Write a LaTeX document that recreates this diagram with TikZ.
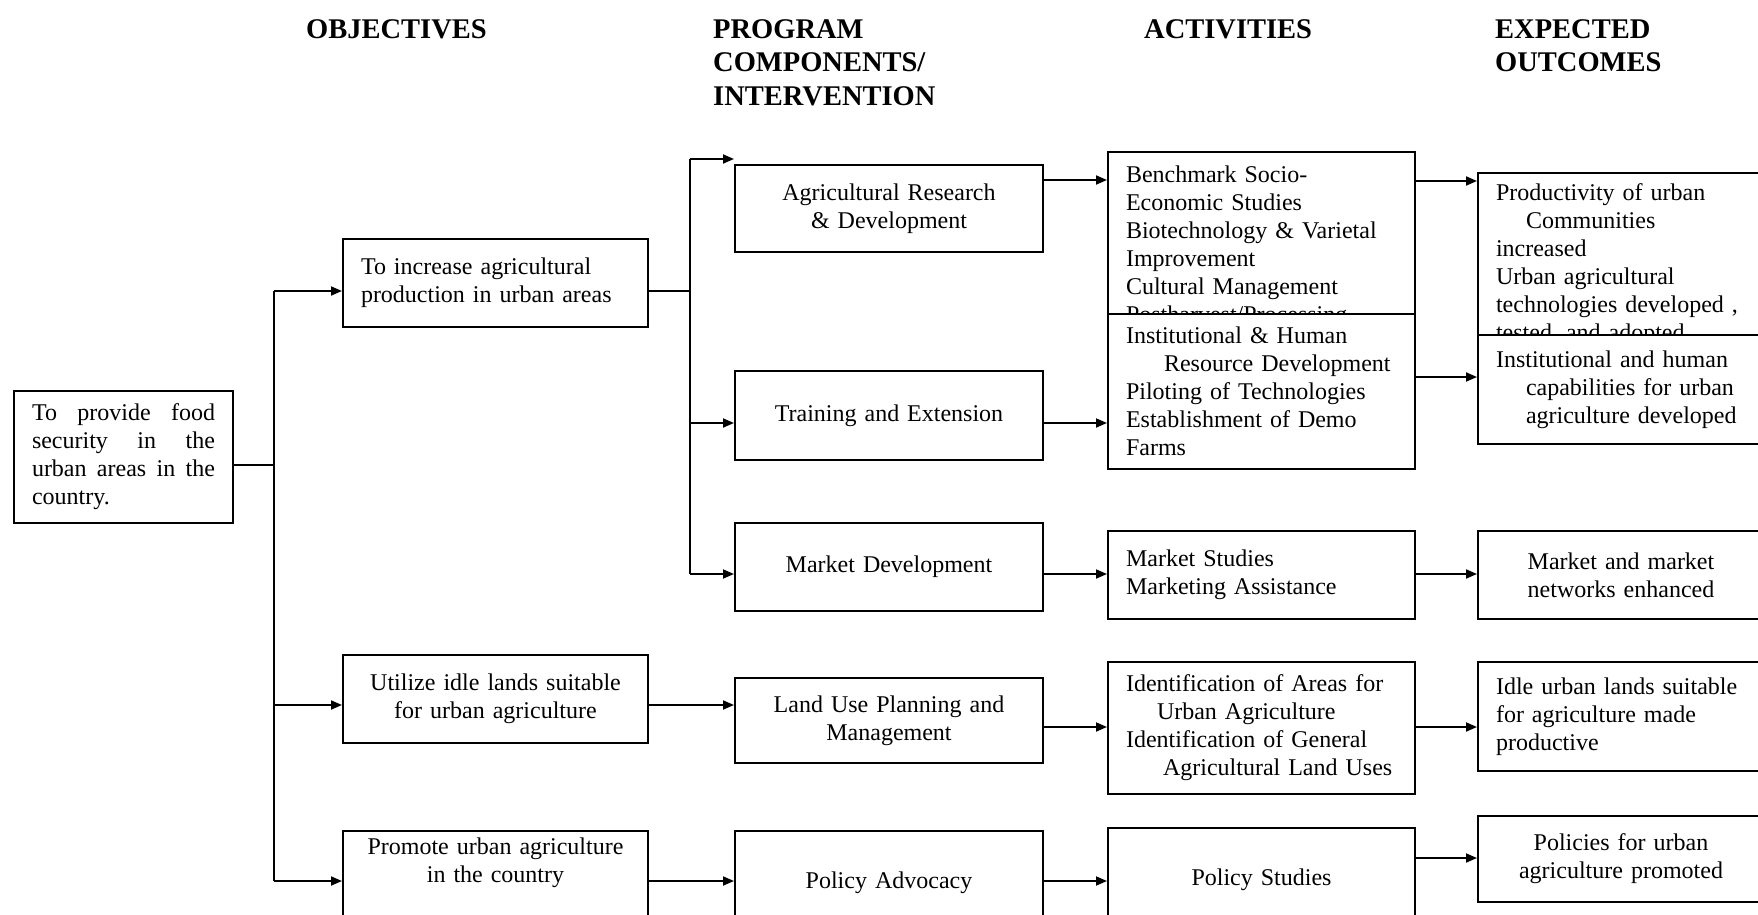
\documentclass[tikz,border=0pt]{standalone}
\usepackage{fontspec}
\setmainfont{Liberation Serif}
\usetikzlibrary{arrows.meta}

\begin{document}
\begin{tikzpicture}[x=1pt, y=-1pt, font=\fontsize{24}{28}\selectfont]

\tikzstyle{box}=[draw, line width=2pt, fill=white, anchor=north west, inner xsep=18pt, inner ysep=6pt]
\tikzstyle{head}=[anchor=north west, inner sep=0pt, align=left, font=\fontsize{28.5}{33.5}\selectfont\bfseries]
\tikzstyle{con}=[line width=1.8pt]
\tikzstyle{arr}=[line width=1.8pt, -{Triangle[length=11pt,width=9pt]}]
%\tikzstyle{grey}=[draw=black!60]

\useasboundingbox (0,0) rectangle (1758,915);
\clip (0,0) rectangle (1758,915);

% column heads
\node[head] (hobj) at (306,19) {OBJECTIVES};
\node[head] (hprog) at (713,19) {PROGRAM\\COMPONENTS/\\INTERVENTION};
\node[head] (hact) at (1144,19) {ACTIVITIES};
\node[head] (hout) at (1495,19) {EXPECTED\\OUTCOMES};

% goal and objectives
\node[box, text width=183pt, minimum height=132pt, align=justify] (root) at (13,390)
  {\tolerance=10000\hyphenpenalty=10000\exhyphenpenalty=10000 To provide food\linebreak security in the\linebreak urban areas in the country.\par};
\node[box, text width=269pt, minimum height=88pt, align=left] (obj1) at (342,238)
  {To increase agricultural\\production in urban areas};
\node[box, text width=269pt, minimum height=88pt, align=center] (obj2) at (342,654)
  {Utilize idle lands suitable\\for urban agriculture};
\node[box, text width=269pt, minimum height=100pt, align=center] (obj3) at (342,830)
  {Promote urban agriculture\\in the country\\[14pt]\mbox{}};

% program components
\node[box, text width=272pt, minimum height=87pt, align=center] (comp1) at (734,164)
  {Agricultural Research\\\& Development};
\node[box, text width=272pt, minimum height=89pt, align=center] (comp2) at (734,370)
  {Training and Extension};
\node[box, text width=272pt, minimum height=88pt, align=center] (comp3) at (734,522)
  {Market Development};
\node[box, text width=272pt, minimum height=85pt, align=center] (comp4) at (734,677)
  {Land Use Planning and\\Management};
\node[box, text width=272pt, minimum height=104pt, align=center] (comp5) at (734,830)
  {Policy Advocacy};

% activities
\node[box, text width=271pt, minimum height=190pt, align=left] (act1) at (1107,151)
  {Benchmark Socio-\\Economic Studies\\Biotechnology \& Varietal\\Improvement\\Cultural Management\\Postharvest/Processing};
\node[box, text width=271pt, minimum height=155pt, align=left] (act2) at (1107,313)
  {Institutional \& Human\\\hspace*{38pt}Resource Development\\Piloting of Technologies\\Establishment of Demo\\Farms};
\node[box, text width=271pt, minimum height=88pt, align=left] (act3) at (1107,530)
  {Market Studies\\Marketing Assistance};
\node[box, text width=271pt, minimum height=132pt, align=left] (act4) at (1107,661)
  {Identification of Areas for\\\hspace*{31pt}Urban Agriculture\\Identification of General\\\hspace*{37pt}Agricultural Land Uses};
\node[box, text width=271pt, minimum height=104pt, align=center] (act5) at (1107,827)
  {Policy Studies};

% expected outcomes
\node[box, text width=250pt, minimum height=184pt, align=left] (out1) at (1477,172)
  {Productivity of urban\\\hspace*{30pt}Communities\\increased\\Urban agricultural\\technologies developed ,\\tested, and adopted};
\node[box, text width=250pt, minimum height=109pt, align=left] (out2) at (1477,334)
  {Institutional and human\\\hspace*{30pt}capabilities for urban\\\hspace*{30pt}agriculture developed};
\node[box, text width=250pt, minimum height=88pt, align=center] (out3) at (1477,530)
  {Market and market\\networks enhanced};
\node[box, text width=250pt, minimum height=109pt, align=left] (out4) at (1477,661)
  {Idle urban lands suitable\\for agriculture made\\productive};
\node[box, text width=250pt, minimum height=86pt, align=center] (out5) at (1477,815)
  {Policies for urban\\agriculture promoted};

% goal to objectives
\coordinate (t0) at (274,465);
\coordinate (t1) at (274,291);
\coordinate (t2) at (274,705);
\coordinate (t3) at (274,881);
\draw[con] (root.east |- t0) -- (t0);
\draw[con] (t1) -- (t3);
\draw[arr] (t1) -- (t1 -| obj1.west);
\draw[arr] (t2) -- (t2 -| obj2.west);
\draw[arr] (t3) -- (t3 -| obj3.west);

% objectives to components
\coordinate (b0) at (690,291);
\coordinate (b1) at (690,159);
\coordinate (b2) at (690,423);
\coordinate (b3) at (690,574);
\draw[con] (obj1.east |- b0) -- (b0);
\draw[con] (b1) -- (b3);
\draw[arr] (b1) -- (b1 -| comp1.west);
\draw[arr] (b2) -- (b2 -| comp2.west);
\draw[arr] (b3) -- (b3 -| comp3.west);
\draw[arr] (obj2.east |- t2) -- (t2 -| comp4.west);
\draw[arr] (obj3.east |- t3) -- (t3 -| comp5.west);

% components to activities, activities to outcomes
\foreach \c/\a/\y in {comp1/act1/180, comp2/act2/423, comp3/act3/574, comp4/act4/727, comp5/act5/881}
  \draw[arr] (\c.east |- 0,\y) -- (\a.west |- 0,\y);
\foreach \a/\o/\y in {act1/out1/181, act2/out2/377, act3/out3/574, act4/out4/727, act5/out5/858}
  \draw[arr] (\a.east |- 0,\y) -- (\o.west |- 0,\y);

\end{tikzpicture}
\end{document}
